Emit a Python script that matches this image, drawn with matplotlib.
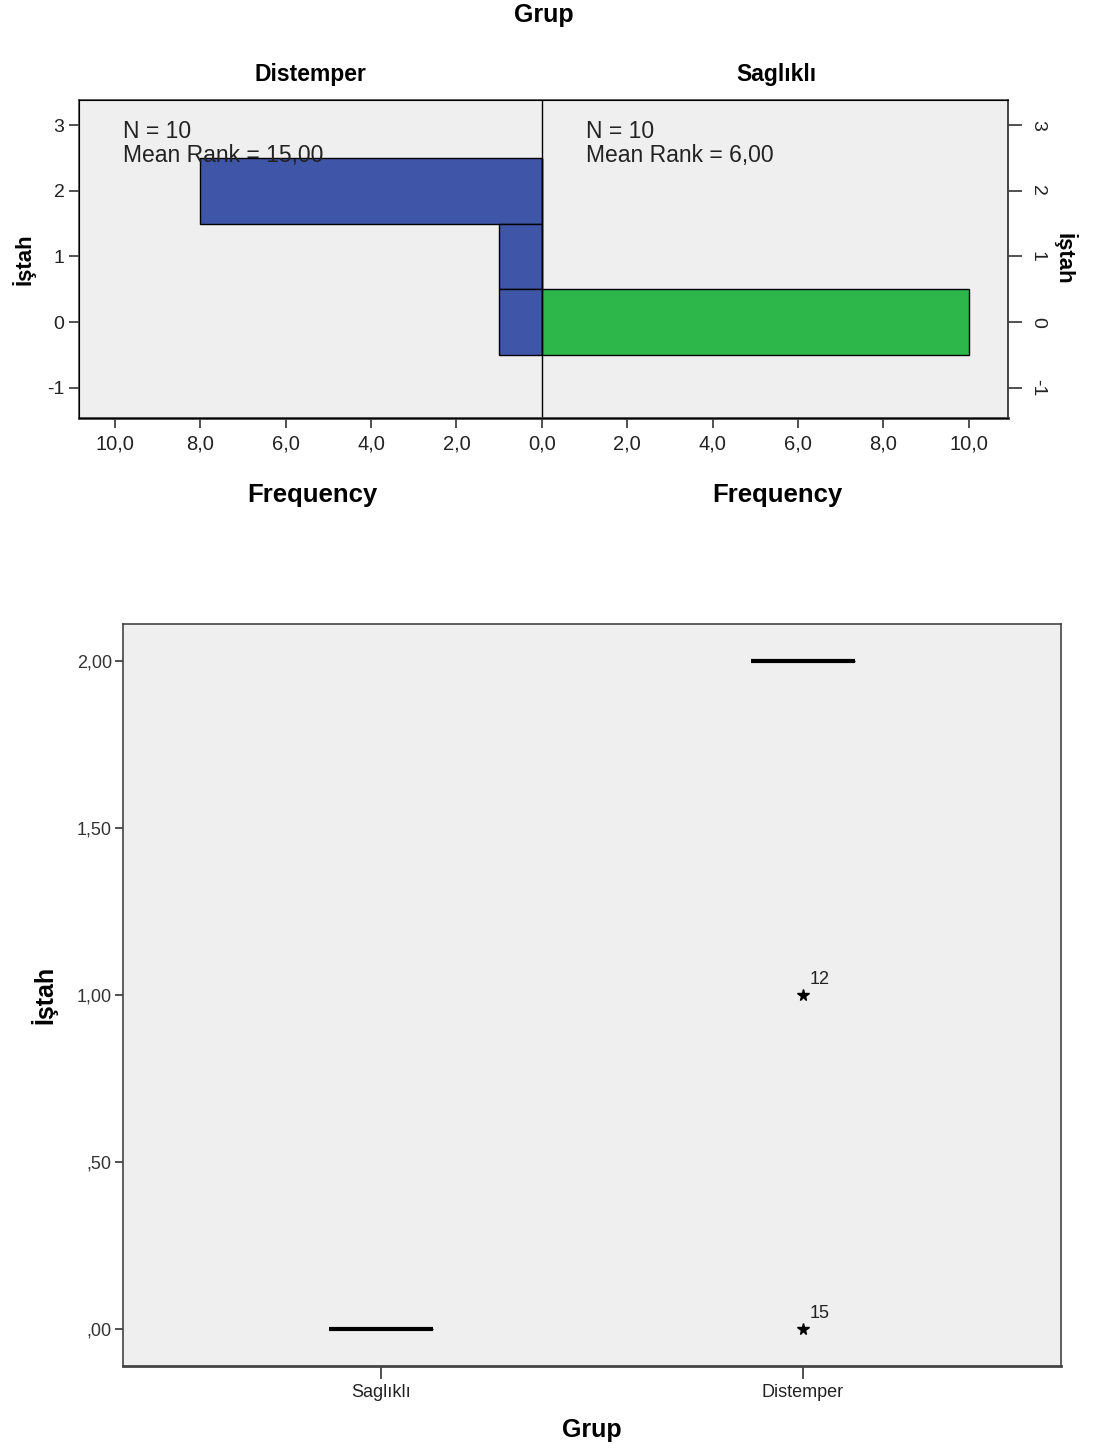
"""Population pyramid (frequency by İştah per group) and boxplot of İştah by Grup."""

import matplotlib

matplotlib.use("Agg")
import matplotlib.pyplot as plt  # noqa: E402

plt.rcParams["font.family"] = ["Liberation Sans", "DejaVu Sans"]

# data
istah_levels = [2, 1, 0]
distemper_freq = [8, 1, 1]
saglikli_freq = [0, 0, 10]
distemper_text = "N = 10\nMean Rank = 15,00"
saglikli_text = "N = 10\nMean Rank = 6,00"

group_names = ["Saglıklı", "Distemper"]
saglikli_values = [0, 0, 0, 0, 0, 0, 0, 0, 0, 0]
distemper_values = [2, 2, 2, 2, 2, 2, 2, 2, 1, 0]
outlier_values = [1, 0]
outlier_cases = ["12", "15"]

BG = "#efefef"
BLUE = "#3f56a8"
GREEN = "#2db64a"
SPINE = "#444444"

fig = plt.figure(figsize=(10.93, 14.5), dpi=100)

# ---- top: back-to-back frequency bars ----
ax = fig.add_axes([0.0723, 0.7117, 0.850, 0.2193])
ax.set_facecolor(BG)
ax.barh(istah_levels, [-f for f in distemper_freq], height=1.0, color=BLUE,
        edgecolor="black", linewidth=1.0)
ax.barh(istah_levels, saglikli_freq, height=1.0, color=GREEN,
        edgecolor="black", linewidth=1.0)
ax.axvline(0, color="black", linewidth=1.0)
ax.set_xlim(-10.84, 10.92)
ax.set_ylim(-1.46, 3.38)

xt = [-10, -8, -6, -4, -2, 0, 2, 4, 6, 8, 10]
ax.set_xticks(xt)
ax.set_xticklabels([f"{abs(v):.1f}".replace(".", ",") for v in xt],
                   fontsize=14.5, color="#222222")
ax.set_yticks([3, 2, 1, 0, -1])
ax.set_yticklabels(["3", "2", "1", "0", "-1"], fontsize=14, color="#222222")
ax.tick_params(axis="both", direction="out", length=7, width=1.2, color="#333333")
ax.tick_params(axis="x", pad=5)
for s in ax.spines.values():
    s.set_color(SPINE)
    s.set_linewidth(1.2)
ax.spines["bottom"].set_linewidth(2.0)

ax2 = ax.twinx()
ax2.set_ylim(ax.get_ylim())
ax2.set_yticks([3, 2, 1, 0, -1])
ax2.set_yticklabels(["3", "2", "1", "0", "-1"], fontsize=14, rotation=-90,
                    va="center", color="#222222")
ax2.tick_params(axis="y", direction="out", length=10, width=1.2, color="#333333",
                pad=5)
ax2.spines["right"].set_color(SPINE)
ax2.spines["right"].set_linewidth(1.2)
ax2.set_ylabel("İştah", fontsize=16, fontweight="bold", rotation=-90, labelpad=22)

ax.set_ylabel("İştah", fontsize=16, fontweight="bold", labelpad=8)

ax.text(-9.81, 3.07, distemper_text, fontsize=16.5, color="#222222",
        va="top", ha="left", linespacing=1.05)
ax.text(1.03, 3.07, saglikli_text, fontsize=16.5, color="#222222",
        va="top", ha="left", linespacing=1.05)

fig.text(544 / 1093, 1 - 15 / 1450, "Grup", fontsize=18, fontweight="bold",
         ha="center", va="center")
fig.text(310 / 1093, 1 - 75 / 1450, "Distemper", fontsize=16.5, fontweight="bold",
         ha="center", va="center")
fig.text(776 / 1093, 1 - 75 / 1450, "Saglıklı", fontsize=16.5, fontweight="bold",
         ha="center", va="center")
fig.text(312 / 1093, 1 - 495 / 1450, "Frequency", fontsize=18.5, fontweight="bold",
         ha="center", va="center")
fig.text(777 / 1093, 1 - 495 / 1450, "Frequency", fontsize=18.5, fontweight="bold",
         ha="center", va="center")

# ---- bottom: boxplot ----
bx = fig.add_axes([0.1125, 0.0579, 0.8582, 0.5117])
bx.set_facecolor(BG)
bx.boxplot([saglikli_values, distemper_values], positions=[1, 2], widths=0.246,
           whis=1.5, patch_artist=True,
           boxprops=dict(facecolor="none", edgecolor="black", linewidth=1.0),
           medianprops=dict(color="black", linewidth=3.0),
           whiskerprops=dict(color="black"), capprops=dict(color="black", linewidth=0),
           flierprops=dict(marker="*", markerfacecolor="black",
                           markeredgecolor="black", markersize=8.5))
for val, case in zip(outlier_values, outlier_cases):
    bx.annotate(case, (2, val), xytext=(5, 8), textcoords="offset points",
                fontsize=13, color="#222222")

bx.set_xlim(0.389, 2.611)
bx.set_ylim(-0.111, 2.111)
bx.set_xticks([1, 2])
bx.set_xticklabels(group_names, fontsize=13, color="#222222")
yt = [0, 0.5, 1.0, 1.5, 2.0]
bx.set_yticks(yt)
bx.set_yticklabels([",00", ",50", "1,00", "1,50", "2,00"], fontsize=13, color="#333333")
bx.tick_params(axis="both", direction="out", length=6, width=1.2, color="#333333",
               pad=2)
bx.tick_params(axis="x", length=9, pad=4)
for s in bx.spines.values():
    s.set_color(SPINE)
    s.set_linewidth(1.2)
bx.spines["bottom"].set_linewidth(2.0)
bx.set_xlabel("Grup", fontsize=18, fontweight="bold", labelpad=12)
bx.set_ylabel("İştah", fontsize=18, fontweight="bold", labelpad=14)

fig.savefig("out.png", dpi=100, facecolor="white")
